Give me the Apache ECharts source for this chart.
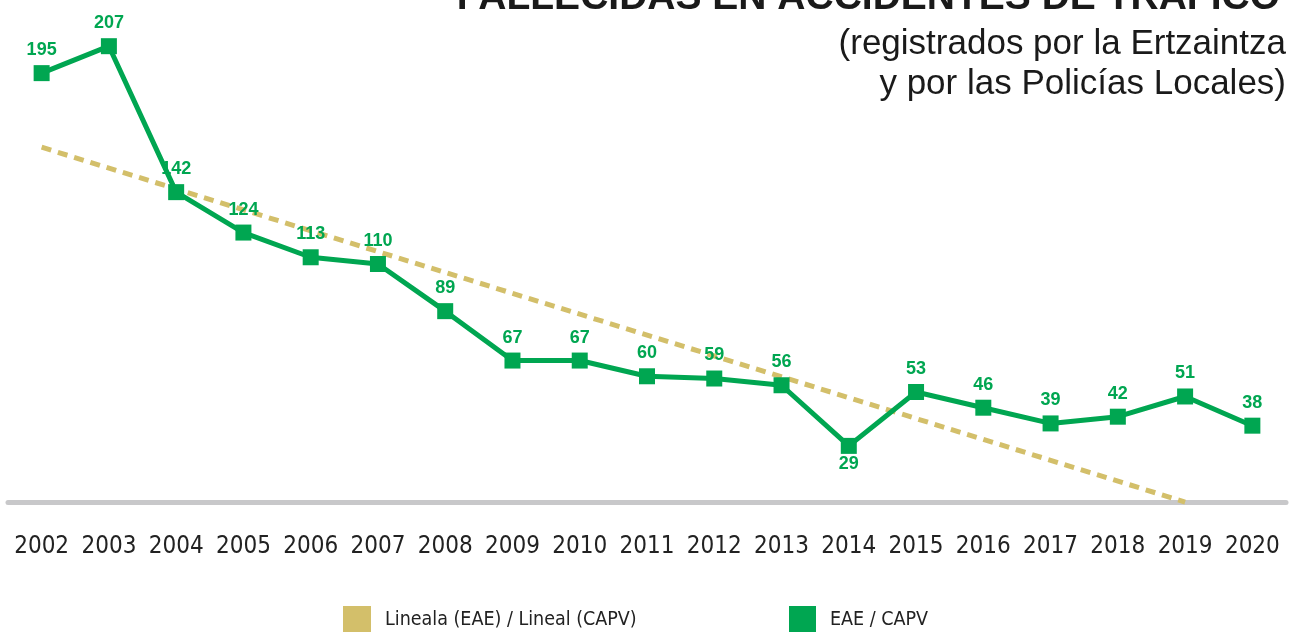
<!DOCTYPE html>
<html lang="es">
<head>
    <meta charset="UTF-8">
    <title>Fallecidas en accidentes de tráfico</title>
    <script src="https://cdn.jsdelivr.net/npm/echarts@6/dist/echarts.min.js"></script>
    <style>
        body { margin: 0; background: #ffffff; }
        #chart { width: 1291px; height: 632px; }
    </style>
</head>
<body>
<div id="chart"></div>
<script>
    // datos
    const years = ['2002', '2003', '2004', '2005', '2006', '2007', '2008', '2009', '2010', '2011',
        '2012', '2013', '2014', '2015', '2016', '2017', '2018', '2019', '2020'];
    const deaths = [195, 207, 142, 124, 113, 110, 89, 67, 67, 60, 59, 56, 29, 53, 46, 39, 42, 51, 38];
    // línea de tendencia: solo los dos extremos visibles (2002 y 2019)
    const trend = [162, null, null, null, null, null, null, null, null, null,
        null, null, null, null, null, null, null, 4, null];
    const labelBelow = ['2014'];

    const GREEN = '#00a651';
    const GOLD = '#d3bf6a';
    const NARROW = '"DejaVu Sans Condensed", "Liberation Sans", sans-serif';

    const chart = echarts.init(document.getElementById('chart'));

    const option = {
        animation: false,
        title: [{
            text: 'FALLECIDAS EN ACCIDENTES DE TRÁFICO',
            right: 6,
            top: -26,
            textStyle: {
                fontFamily: 'Liberation Sans',
                fontWeight: 'bold',
                fontSize: 39,
                color: '#1a1a1a'
            }
        }, {
            text: '(registrados por la Ertzaintza',
            right: 0,
            top: 22,
            textStyle: { fontFamily: 'Liberation Sans', fontWeight: 'normal', fontSize: 35, color: '#1a1a1a' }
        }, {
            text: 'y por las Policías Locales)',
            right: 0,
            top: 62,
            textStyle: { fontFamily: 'Liberation Sans', fontWeight: 'normal', fontSize: 35, color: '#1a1a1a' }
        }],
        legend: [{
            data: ['Lineala (EAE) / Lineal (CAPV)'],
            left: 343,
            top: 606,
            padding: 0,
            icon: 'rect',
            itemWidth: 28,
            itemHeight: 27,
            textStyle: { fontFamily: NARROW, fontSize: 19.5, color: '#222', padding: [3, 0, 0, 9] }
        }, {
            data: ['EAE / CAPV'],
            left: 789,
            top: 606,
            padding: 0,
            icon: 'rect',
            itemWidth: 27,
            itemHeight: 27,
            textStyle: { fontFamily: NARROW, fontSize: 19.5, color: '#222', padding: [3, 0, 0, 9] }
        }],
        grid: { left: 8, right: 5, top: 17, bottom: 121 },
        xAxis: {
            type: 'category',
            data: years,
            boundaryGap: true,
            offset: -9,
            axisLine: { lineStyle: { color: '#c8c8ca', width: 5 } },
            axisTick: { show: false },
            axisLabel: {
                margin: 33,
                fontFamily: NARROW,
                fontSize: 24,
                color: '#222',
                interval: 0
            }
        },
        yAxis: {
            type: 'value',
            min: 0,
            max: 220,
            show: false
        },
        series: [{
            name: 'Lineala (EAE) / Lineal (CAPV)',
            type: 'line',
            data: trend,
            connectNulls: true,
            symbol: 'none',
            z: 1,
            itemStyle: { color: GOLD },
            lineStyle: { color: GOLD, width: 5, type: [10, 7] }
        }, {
            name: 'EAE / CAPV',
            type: 'line',
            data: deaths.map((v, i) => labelBelow.includes(years[i])
                ? { value: v, label: { position: 'bottom', distance: 1 } }
                : v),
            symbol: 'rect',
            symbolSize: 16,
            z: 3,
            itemStyle: { color: GREEN },
            lineStyle: { color: GREEN, width: 5 },
            label: {
                show: true,
                position: 'top',
                distance: 6,
                color: GREEN,
                fontFamily: 'Liberation Sans',
                fontWeight: 'bold',
                fontSize: 18
            }
        }]
    };

    chart.setOption(option);
</script>
</body>
</html>
